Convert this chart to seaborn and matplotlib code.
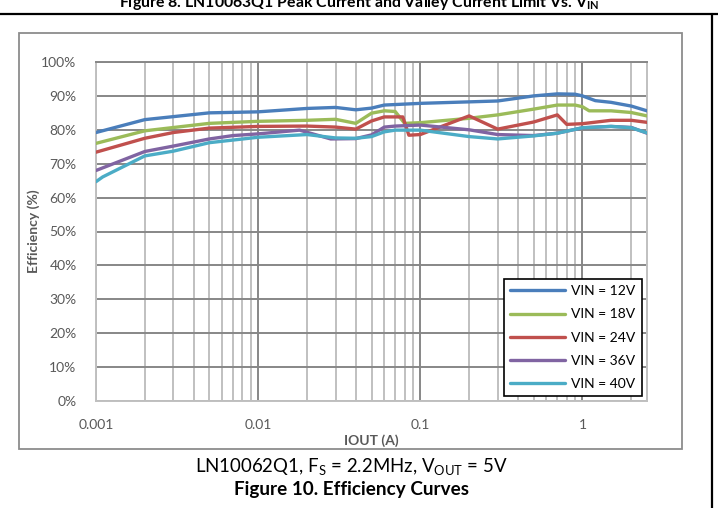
import numpy as np
import pandas as pd
import matplotlib
matplotlib.use("Agg")
import matplotlib.pyplot as plt
import seaborn as sns
from matplotlib.patches import Rectangle
from matplotlib.lines import Line2D
from matplotlib.ticker import FixedLocator, NullFormatter, LogLocator

# ---------------- data ----------------
series_names = ["VIN = 12V", "VIN = 18V", "VIN = 24V", "VIN = 36V", "VIN = 40V"]
series_colors = ["#4A7EBB", "#9BBB59", "#C0504D", "#8064A2", "#4BACC6"]

x_12 = [0.001, 0.002, 0.005, 0.01, 0.02, 0.03, 0.04, 0.05, 0.06, 0.1, 0.3, 0.5, 0.7, 0.9, 1.0, 1.2, 1.5, 2.0, 2.5]
y_12 = [79.2, 83.0, 85.0, 85.3, 86.3, 86.6, 85.9, 86.4, 87.3, 87.8, 88.5, 90.0, 90.6, 90.5, 90.0, 88.6, 88.1, 87.0, 85.6]

x_18 = [0.001, 0.002, 0.005, 0.01, 0.02, 0.03, 0.04, 0.05, 0.06, 0.07, 0.08, 0.1, 0.2, 0.3, 0.5, 0.7, 0.9, 1.0, 1.1, 1.5, 2.0, 2.5]
y_18 = [76.0, 79.7, 81.9, 82.5, 82.8, 83.1, 81.9, 84.9, 85.6, 85.4, 81.9, 82.1, 83.4, 84.4, 86.1, 87.3, 87.3, 86.8, 85.6, 85.6, 85.1, 84.1]

x_24 = [0.001, 0.002, 0.003, 0.005, 0.01, 0.02, 0.03, 0.04, 0.05, 0.06, 0.078, 0.085, 0.1, 0.2, 0.3, 0.5, 0.7, 0.8, 1.0, 1.5, 2.0, 2.5]
y_24 = [73.4, 77.5, 79.2, 80.5, 81.0, 81.1, 80.8, 80.2, 82.6, 83.8, 83.8, 78.4, 78.6, 84.1, 80.2, 82.3, 84.4, 81.6, 81.8, 82.8, 82.8, 82.2]

x_36 = [0.001, 0.002, 0.003, 0.005, 0.007, 0.01, 0.018, 0.028, 0.04, 0.05, 0.06, 0.07, 0.1, 0.2, 0.3, 0.5, 0.7, 1.0, 1.5, 2.0, 2.5]
y_36 = [68.0, 73.6, 75.2, 77.3, 78.3, 78.8, 79.9, 77.3, 77.4, 78.5, 80.8, 81.1, 81.4, 80.0, 78.6, 78.3, 79.0, 80.6, 81.0, 80.7, 79.0]

x_40 = [0.001, 0.0011, 0.002, 0.003, 0.005, 0.01, 0.02, 0.03, 0.04, 0.05, 0.06, 0.07, 0.1, 0.2, 0.3, 0.5, 0.7, 1.0, 1.5, 2.0, 2.5]
y_40 = [64.7, 66.1, 72.3, 73.7, 76.2, 77.8, 78.6, 77.6, 77.5, 78.0, 79.4, 79.9, 79.9, 78.0, 77.3, 78.2, 79.0, 80.6, 81.0, 80.6, 79.1]

x_ticks = [0.001, 0.01, 0.1, 1]
x_tick_labels = ["0.001", "0.01", "0.1", "1"]
y_ticks = [0, 10, 20, 30, 40, 50, 60, 70, 80, 90, 100]
y_tick_labels = [f"{v}%" for v in y_ticks]

xs = [x_12, x_18, x_24, x_36, x_40]
ys = [y_12, y_18, y_24, y_36, y_40]
df = pd.concat(
    [pd.DataFrame({"IOUT": x, "Eff": y, "Series": n}) for n, x, y in zip(series_names, xs, ys)],
    ignore_index=True,
)

# ---------------- figure ----------------
sns.set_theme(style="white")
plt.rcParams["font.family"] = ["Lato", "DejaVu Sans"]
plt.rcParams["mathtext.fontset"] = "custom"
plt.rcParams["mathtext.rm"] = "Lato"
plt.rcParams["mathtext.bf"] = "Lato:bold"

W, H = 718, 508
fig = plt.figure(figsize=(W / 100, H / 100), dpi=100)
fig.patch.set_facecolor("white")

def fx(px):
    return px / W

def fy(py):
    return 1 - py / H

# outer document lines (table cell borders)
fig.add_artist(Line2D([0, 1], [fy(13.5), fy(13.5)], color="black", lw=1.6, transform=fig.transFigure))
fig.add_artist(Line2D([fx(712), fx(712)], [fy(13.5), 0], color="black", lw=1.6, transform=fig.transFigure))

# chart area border
fig.add_artist(Rectangle((fx(19), fy(449)), fx(682) - fx(19), fy(33) - fy(449),
                         fill=False, edgecolor="#8C8C8C", lw=1.3, transform=fig.transFigure))

# cut-off top title
fig.text(fx(359), fy(6.5), r"Figure 8. LN10063Q1 Peak Current and Valley Current Limit Vs. V$_\mathregular{IN}$",
         ha="center", va="baseline", fontsize=11.4, fontweight="bold", color="black")

ax = fig.add_axes([fx(96), fy(401), fx(647) - fx(96), fy(62) - fy(401)])
ax.set_facecolor("white")

sns.lineplot(data=df, x="IOUT", y="Eff", hue="Series", palette=series_colors,
             hue_order=series_names, estimator=None, sort=False, linewidth=2.4,
             ax=ax, legend=False, zorder=3)

ax.set_xscale("log")
ax.set_xlim(0.001, 2.5)
ax.set_ylim(0, 100)

ax.xaxis.set_major_locator(FixedLocator(x_ticks))
ax.set_xticklabels(x_tick_labels)
ax.xaxis.set_minor_locator(LogLocator(base=10, subs=np.arange(2, 10)))
ax.xaxis.set_minor_formatter(NullFormatter())
ax.set_yticks(y_ticks)
ax.set_yticklabels(y_tick_labels)

ax.grid(True, which="major", axis="both", color="#878787", lw=1.4, zorder=0)
ax.grid(True, which="minor", axis="x", color="#C0C0C0", lw=1.4, zorder=0)
ax.set_axisbelow(True)

for s in ["left", "bottom", "right"]:
    ax.spines[s].set_color("#C0C0C0")
    ax.spines[s].set_linewidth(1.4)
ax.spines["top"].set_color("#878787")
ax.spines["top"].set_linewidth(1.4)

ax.tick_params(axis="both", which="both", length=0, labelsize=10, labelcolor="#595959")
ax.tick_params(axis="x", pad=13)
ax.tick_params(axis="y", pad=14)

ax.set_xlabel("IOUT (A)", fontsize=10, fontweight="bold", color="#595959", labelpad=2)
ax.set_ylabel("Efficiency (%)", fontsize=10, fontweight="bold", color="#595959")
ax.yaxis.set_label_coords((40 - 96) / (647 - 96), 0.5)

handles = [Line2D([0], [0], color=c, lw=2.4) for c in series_colors]
leg = ax.legend(handles, series_names, loc="lower right", bbox_to_anchor=(fx(641.5), fy(396)),
                bbox_transform=fig.transFigure, frameon=True, fancybox=False,
                fontsize=10, handlelength=4.0, handletextpad=0.4, labelspacing=0.8,
                borderpad=0.45, borderaxespad=0)
leg.get_frame().set_edgecolor("black")
leg.get_frame().set_linewidth(1.2)
leg.get_frame().set_facecolor("white")
leg.get_frame().set_alpha(1)
leg.set_zorder(5)
for t in leg.get_texts():
    t.set_color("black")

# captions
fig.text(fx(351), fy(467), r"LN10062Q1, F$_\mathregular{S}$ = 2.2MHz, V$_\mathregular{OUT}$ = 5V",
         ha="center", va="center", fontsize=13.4, color="black")
fig.text(fx(351), fy(490), "Figure 10. Efficiency Curves",
         ha="center", va="center", fontsize=13.6, fontweight="bold", color="black")

fig.savefig("out.png", dpi=100, facecolor="white")
